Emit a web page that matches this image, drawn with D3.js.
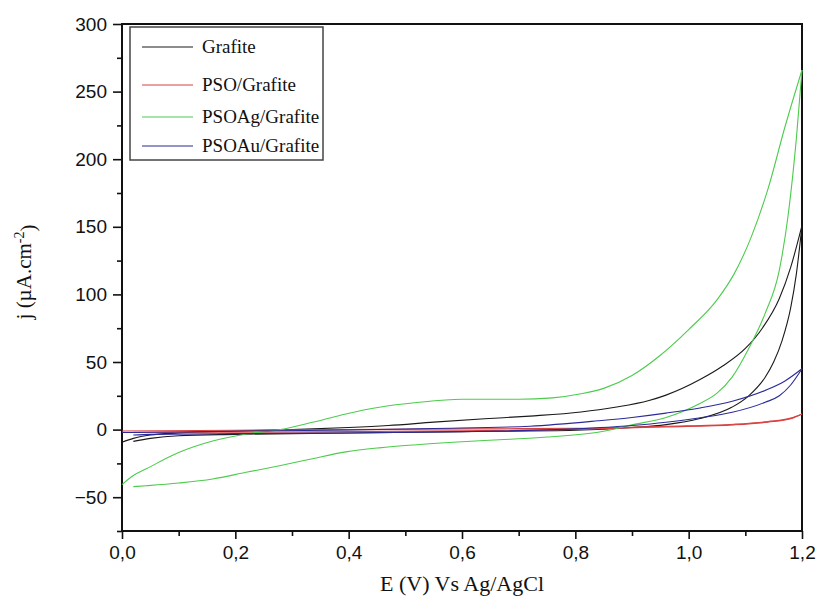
<!DOCTYPE html>
<html>
<head>
<meta charset="utf-8">
<script src="https://cdn.jsdelivr.net/npm/d3@7"></script>
<style>
    body { margin: 0; background: #fff; }
    .tick text { font-family: "Liberation Sans", Arial, sans-serif; font-size: 19px; fill: #111; }
    .serif { font-family: "Liberation Serif", "Times New Roman", serif; fill: #111; }
</style>
</head>
<body>
<script>
/* Potential (V) vs current density (uA/cm2). Each sweep is kept as two branches,
   both listed with E going up: forward (upper) and reverse (lower). */
var grafiteFwd = [
    [0.00, -9.4], [0.02, -6.5], [0.05, -4], [0.10, -2.5], [0.20, -1], [0.30, 0], [0.40, 1.5],
    [0.47, 3], [0.55, 5.5], [0.64, 8], [0.72, 10], [0.81, 13], [0.87, 16.5], [0.93, 21.5],
    [0.96, 25.5], [1.02, 37], [1.06, 47], [1.10, 60], [1.13, 75], [1.16, 97], [1.18, 120], [1.20, 151]
];
var grafiteRev = [
    [0.02, -8.7], [0.05, -6.5], [0.10, -4.5], [0.20, -3.5], [0.40, -2.5], [0.60, -1.5], [0.80, -0.5],
    [0.90, 1.5], [0.96, 3.7], [1.018, 8], [1.076, 16.5], [1.106, 25], [1.135, 38.7], [1.15, 50],
    [1.165, 66], [1.18, 90], [1.19, 115], [1.20, 151]
];

var psoFwd = [
    [0.00, -1], [0.20, -0.5], [0.40, 0], [0.60, 0.5], [0.80, 1], [0.96, 2.5], [1.08, 4], [1.14, 6],
    [1.18, 8.5], [1.20, 11.6]
];
var psoRev = [
    [0.02, -2], [0.20, -2], [0.40, -1.5], [0.60, -0.8], [0.80, 0.2], [0.96, 2], [1.08, 3.5],
    [1.14, 5.5], [1.18, 8], [1.20, 11.6]
];

var psoAgFwd = [
    [0.00, -40.7], [0.02, -34], [0.043, -29], [0.10, -17], [0.16, -8.5], [0.22, -3.2], [0.28, 0],
    [0.336, 5.4], [0.395, 11.6], [0.454, 16.5], [0.52, 20], [0.60, 22.5], [0.70, 22.5], [0.76, 23.5],
    [0.81, 26.5], [0.85, 30.5], [0.90, 40], [0.95, 55], [1.00, 74], [1.05, 96], [1.08, 115],
    [1.11, 142], [1.14, 178], [1.17, 224], [1.20, 266]
];
var psoAgRev = [
    [0.02, -42.2], [0.043, -41.5], [0.10, -39.5], [0.16, -36.5], [0.219, -31.6], [0.278, -26.7],
    [0.336, -21.5], [0.395, -16.5], [0.454, -13.5], [0.52, -11.2], [0.60, -9], [0.666, -7.5],
    [0.75, -5.5], [0.84, -2], [0.90, 3.5], [0.96, 9], [1.018, 19], [1.05, 27], [1.077, 39],
    [1.106, 60], [1.135, 86], [1.16, 118], [1.176, 160], [1.19, 215], [1.20, 266]
];

var psoAuFwd = [
    [0.00, -2.2], [0.05, -2], [0.20, -1.2], [0.40, -0.3], [0.55, 0.8], [0.72, 2.5], [0.84, 6.5],
    [0.90, 9], [0.96, 12.2], [1.02, 16], [1.077, 21], [1.135, 29], [1.17, 36], [1.20, 45]
];
var psoAuRev = [
    [0.02, -4], [0.05, -3.5], [0.20, -3], [0.40, -2.5], [0.60, -1.5], [0.80, 0.5], [0.90, 3],
    [0.96, 5.4], [1.018, 8.6], [1.077, 12.8], [1.135, 20.2], [1.16, 25], [1.18, 33], [1.20, 45]
];

var seriesNames = ["Grafite", "PSO/Grafite", "PSOAg/Grafite", "PSOAu/Grafite"];
var seriesColors = ["#1a1a1a", "#d94040", "#4ccc4c", "#2a2a99"];
var seriesData = [
    [grafiteFwd, grafiteRev],
    [psoFwd, psoRev],
    [psoAgFwd, psoAgRev],
    [psoAuFwd, psoAuRev]
];

var xTicks = [0, 0.2, 0.4, 0.6, 0.8, 1.0, 1.2];
var yTicks = [-50, 0, 50, 100, 150, 200, 250, 300];

var margin = {top: 24, right: 15, bottom: 73, left: 122},
    width = 817 - margin.left - margin.right,
    height = 604 - margin.top - margin.bottom;

var x = d3.scaleLinear().domain([0, 1.2]).range([0, width]);
var y = d3.scaleLinear().domain([-75, 300]).range([height, 0]);

var svg = d3.select("body").append("svg")
    .attr("width", 817)
    .attr("height", 604);

var g = svg.append("g")
    .attr("transform", "translate(" + margin.left + "," + margin.top + ")");

var comma = function(d){ return d3.format(".1f")(d).replace(".", ","); };

// minor ticks first, then the major ones with labels
g.append("g")
    .attr("transform", "translate(0," + height + ")")
    .call(d3.axisBottom(x).tickValues(d3.range(0.1, 1.2, 0.2)).tickSize(5).tickFormat(""))
    .call(function(a){ a.select(".domain").remove(); });
g.append("g")
    .call(d3.axisLeft(y).tickValues(d3.range(-75, 300, 50)).tickSize(5).tickFormat(""))
    .call(function(a){ a.select(".domain").remove(); });

var xAxis = g.append("g")
    .attr("transform", "translate(0," + height + ")")
    .call(d3.axisBottom(x).tickValues(xTicks).tickSize(8).tickPadding(7).tickFormat(comma));
var yAxis = g.append("g")
    .call(d3.axisLeft(y).tickValues(yTicks).tickSize(9).tickPadding(6).tickFormat(d3.format("d")));

g.selectAll(".tick line").attr("stroke", "#111").attr("stroke-width", 1.6);
xAxis.select(".domain").remove();
yAxis.select(".domain").remove();

// frame around the plot
g.append("rect")
    .attr("width", width)
    .attr("height", height)
    .attr("fill", "none")
    .attr("stroke", "#111")
    .attr("stroke-width", 2);

var line = d3.line()
    .x(function(d){ return x(d[0]); })
    .y(function(d){ return y(d[1]); })
    .curve(d3.curveMonotoneX);

var curves = g.selectAll(".series")
    .data(seriesData)
    .enter().append("g")
    .attr("class", "series")
    .attr("stroke", function(d, i){ return seriesColors[i]; });

curves.selectAll("path")
    .data(function(d){ return d; })
    .enter().append("path")
    .attr("fill", "none")
    .attr("stroke-width", 1.1)
    .attr("d", line);

// legend
var legend = svg.append("g").attr("transform", "translate(130,27)");
legend.append("rect")
    .attr("width", 193)
    .attr("height", 133)
    .attr("fill", "#fff")
    .attr("stroke", "#444")
    .attr("stroke-width", 1.5);

var rowY = [20, 58, 90, 119];
var item = legend.selectAll(".item")
    .data(seriesNames)
    .enter().append("g")
    .attr("transform", function(d, i){ return "translate(0," + rowY[i] + ")"; });
item.append("line")
    .attr("x1", 12).attr("x2", 63)
    .attr("stroke", function(d, i){ return seriesColors[i]; })
    .attr("stroke-width", 1.2);
item.append("text")
    .attr("class", "serif")
    .attr("x", 72)
    .attr("dy", "0.33em")
    .attr("font-size", 19)
    .text(function(d){ return d; });

// axis titles
svg.append("text")
    .attr("class", "serif")
    .attr("x", 462)
    .attr("y", 591)
    .attr("text-anchor", "middle")
    .attr("font-size", 22)
    .text("E (V) Vs Ag/AgCl");

var yTitle = svg.append("text")
    .attr("class", "serif")
    .attr("transform", "translate(31,272) rotate(-90)")
    .attr("text-anchor", "middle")
    .attr("font-size", 21);
yTitle.append("tspan").text("j (\u00b5A.cm");
yTitle.append("tspan").attr("dy", "-0.5em").attr("font-size", 14).text("-2");
yTitle.append("tspan").attr("dy", "0.5em").text(")");
</script>
</body>
</html>
